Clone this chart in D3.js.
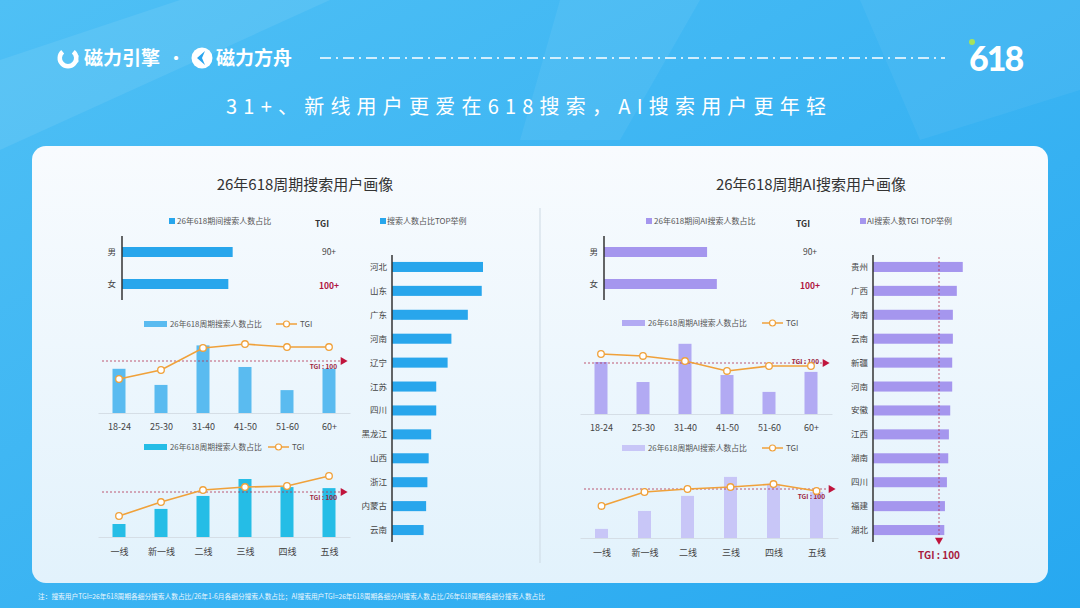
<!DOCTYPE html>
<html>
<head>
<meta charset="utf-8">
<script src="https://cdn.jsdelivr.net/npm/d3@7"></script>
<style>
  body { margin: 0; background: #2ba8ef; }
  svg { display: block; font-family: "Noto Sans CJK SC", "Noto Sans", sans-serif; }
</style>
</head>
<body>
<svg id="chart" width="1080" height="608"></svg>
<script>
// 数据
const genders = ["男", "女"];
const searchGenderShare = [51, 49];
const aiGenderShare = [47.5, 52];
const genderTgiLabels = ["90+", "100+"];

const ages = ["18-24", "25-30", "31-40", "41-50", "51-60", "60+"];
const searchAgeShare = [17, 10.8, 26, 17.7, 8.8, 17];
const searchAgeTgi = [88, 94, 108.7, 111.3, 109.3, 109.3];
const aiAgeShare = [20, 12.3, 27, 15, 8.5, 16.2];
const aiAgeTgi = [106, 104.7, 101.3, 94.7, 98, 98];

const tiers = ["一线", "新一线", "二线", "三线", "四线", "五线"];
const searchTierShare = [5, 10.8, 15.8, 22.3, 19.2, 18.8];
const searchTierTgi = [84, 93.3, 101.3, 103.3, 104, 110.7];
const aiTierShare = [3.5, 10.4, 16.2, 23.5, 20.8, 17.7];
const aiTierTgi = [88.7, 98, 100, 101.3, 103.3, 98.7];

const searchProvinces = ["河北", "山东", "广东", "河南", "辽宁", "江苏", "四川", "黑龙江", "山西", "浙江", "内蒙古", "云南"];
const searchProvinceShare = [7.2, 7.1, 6.0, 4.7, 4.4, 3.5, 3.5, 3.1, 2.9, 2.8, 2.7, 2.5];
const aiProvinces = ["贵州", "广西", "海南", "云南", "新疆", "河南", "安徽", "江西", "湖南", "四川", "福建", "湖北"];
const aiProvinceTgi = [136, 127, 121, 121, 120, 120, 117, 115, 114, 112, 109, 108];

const svg = d3.select("#chart");
const defs = svg.append("defs");

// 背景
const bg = defs.append("linearGradient").attr("id", "bg").attr("x1", 0).attr("y1", 0).attr("x2", 1).attr("y2", 1);
bg.append("stop").attr("offset", 0).attr("stop-color", "#4fc0f5");
bg.append("stop").attr("offset", 1).attr("stop-color", "#27a8f0");
svg.append("rect").attr("width", 1080).attr("height", 608).attr("fill", "url(#bg)");
svg.append("path").attr("d", "M0,60 L180,0 L330,0 L0,150 Z").attr("fill", "#fff").attr("opacity", 0.08);
svg.append("path").attr("d", "M560,0 L700,0 L620,140 L520,140 Z").attr("fill", "#fff").attr("opacity", 0.06);
svg.append("path").attr("d", "M860,0 L1080,0 L1080,90 L920,140 Z").attr("fill", "#fff").attr("opacity", 0.05);

// 页眉
const head = svg.append("g");
const ring = d3.arc().innerRadius(6).outerRadius(10.5).startAngle(0.7).endAngle(2 * Math.PI - 0.7);
head.append("path").attr("d", ring()).attr("transform", "translate(68,58)").attr("fill", "#fff");
head.append("circle").attr("cx", 77).attr("cy", 56).attr("r", 1.6).attr("fill", "#fff");
head.append("circle").attr("cx", 77).attr("cy", 61).attr("r", 1.6).attr("fill", "#fff");
head.append("text").attr("x", 84).attr("y", 65).attr("fill", "#fff")
  .attr("font-size", 19).attr("font-weight", 700).text("磁力引擎");
head.append("text").attr("x", 168).attr("y", 64).attr("fill", "#fff")
  .attr("font-size", 16).attr("font-weight", 700).text("·");
head.append("circle").attr("cx", 202).attr("cy", 58).attr("r", 10.5).attr("fill", "#fff");
head.append("path").attr("d", "M205,51 L197,58 L205,65 L202,58 Z").attr("fill", "#2aa5ee");
head.append("text").attr("x", 216).attr("y", 65).attr("fill", "#fff")
  .attr("font-size", 19).attr("font-weight", 700).text("磁力方舟");
head.append("line").attr("x1", 320).attr("x2", 945).attr("y1", 58).attr("y2", 58)
  .attr("stroke", "#fff").attr("stroke-width", 1.4).attr("stroke-dasharray", "11,5,2,5");
head.append("text").attr("x", 969).attr("y", 71).attr("fill", "#fff")
  .attr("font-family", "Lato, Roboto, sans-serif").attr("font-size", 34).attr("font-weight", 900)
  .attr("letter-spacing", -2).text("618");
head.append("circle").attr("cx", 972).attr("cy", 42).attr("r", 3).attr("fill", "#a6e35a");

svg.append("text").attr("x", 226).attr("y", 114).attr("fill", "#fff")
  .attr("font-size", 20).attr("textLength", 600).attr("lengthAdjust", "spacing")
  .text("31+、新线用户更爱在618搜索，AI搜索用户更年轻");

// 白色面板
const pg = defs.append("linearGradient").attr("id", "panel").attr("x1", 0).attr("y1", 0).attr("x2", 0).attr("y2", 1);
pg.append("stop").attr("offset", 0).attr("stop-color", "#f8fbfe");
pg.append("stop").attr("offset", 1).attr("stop-color", "#e2f2fc");
svg.append("rect").attr("x", 32).attr("y", 146).attr("width", 1016).attr("height", 437)
  .attr("rx", 14).attr("fill", "url(#panel)");
svg.append("line").attr("x1", 540).attr("x2", 540).attr("y1", 208).attr("y2", 563)
  .attr("stroke", "#cdd9e3").attr("stroke-width", 1);

svg.append("text").attr("x", 305).attr("y", 190).attr("text-anchor", "middle")
  .attr("font-size", 15).attr("fill", "#333").text("26年618周期搜索用户画像");
svg.append("text").attr("x", 811).attr("y", 190).attr("text-anchor", "middle")
  .attr("font-size", 15).attr("fill", "#333").text("26年618周期AI搜索用户画像");

svg.append("text").attr("x", 38).attr("y", 599).attr("fill", "#fff").attr("opacity", 0.9)
  .attr("font-size", 7).attr("textLength", 507).attr("lengthAdjust", "spacingAndGlyphs")
  .text("注：搜索用户TGI=26年618周期各细分搜索人数占比/26年1-6月各细分搜索人数占比；AI搜索用户TGI=26年618周期各细分AI搜索人数占比/26年618周期各细分搜索人数占比");

const TGI_COLOR = "#f0a13a";
const REF_COLOR = "#b3304f";

// 性别横条
function genderChart(o) {
  const g = svg.append("g");
  const y = d3.scalePoint().domain(genders).range([252, 284]);
  const x = d3.scaleLinear().domain([0, 100]).range([o.x0, o.x0 + 217]);
  g.append("rect").attr("x", o.legendX).attr("y", 218).attr("width", 6).attr("height", 6).attr("fill", o.color);
  g.append("text").attr("x", o.legendX + 8).attr("y", 224).attr("font-size", 8).attr("fill", "#555").text(o.legend);
  g.append("text").attr("x", o.tgiX).attr("y", 227).attr("text-anchor", "middle")
    .attr("font-size", 8.5).attr("font-weight", 700).attr("fill", "#333").text("TGI");
  g.selectAll("rect.bar").data(o.values).join("rect").attr("class", "bar")
    .attr("x", x(0)).attr("y", (d, i) => y(genders[i]) - 5)
    .attr("width", d => x(d) - x(0)).attr("height", 10).attr("fill", o.color);
  g.selectAll("text.lab").data(genders).join("text").attr("class", "lab")
    .attr("x", o.x0 - 6).attr("y", d => y(d) + 3).attr("text-anchor", "end")
    .attr("font-size", 8.5).attr("fill", "#444").text(d => d);
  g.selectAll("text.tgi").data(genderTgiLabels).join("text").attr("class", "tgi")
    .attr("x", o.tgiX + 7).attr("y", (d, i) => y(genders[i]) + 3 + i * 2).attr("text-anchor", "middle")
    .attr("font-size", 8.5).attr("font-weight", (d, i) => i ? 700 : 400)
    .attr("fill", (d, i) => i ? "#b0163e" : "#444").text(d => d);
  g.append("line").attr("x1", o.x0).attr("x2", o.x0).attr("y1", 236).attr("y2", 300)
    .attr("stroke", "#333").attr("stroke-width", 1.5);
}

// 柱线组合
function comboChart(o) {
  const g = svg.append("g");
  const x = d3.scalePoint().domain(o.cats).range(o.range).padding(0.5);
  const y = d3.scaleLinear().domain([0, 30]).range([o.base, o.base - 78]);
  const t = d3.scaleLinear().domain([70, 130]).range([o.ref + 45, o.ref - 45]);

  g.append("g").attr("transform", `translate(0,${o.base})`)
    .call(d3.axisBottom(x).tickSize(0).tickSizeOuter(0))
    .call(a => a.select(".domain").attr("stroke", "#d5dee6"))
    .call(a => a.selectAll("text").attr("dy", o.tickDy).attr("font-size", 9)
      .attr("font-family", "\"Noto Sans CJK SC\", sans-serif").attr("fill", "#444"));

  g.selectAll("rect.bar").data(o.share).join("rect").attr("class", "bar")
    .attr("x", (d, i) => x(o.cats[i]) - 6.5).attr("width", 13)
    .attr("y", d => y(d)).attr("height", d => y(0) - y(d)).attr("fill", o.color);

  g.append("line").attr("x1", o.range[0] + 4).attr("x2", o.range[1] - 10)
    .attr("y1", t(100)).attr("y2", t(100))
    .attr("stroke", REF_COLOR).attr("stroke-width", 0.8).attr("stroke-dasharray", "2,2");
  g.append("path").attr("d", d3.symbol(d3.symbolTriangle, 28)())
    .attr("transform", `translate(${o.range[1] - 7},${t(100)}) rotate(90)`).attr("fill", "#c0143c");
  g.append("text").attr("x", o.range[1] - 13).attr("y", t(100) + o.refDy).attr("text-anchor", "end")
    .attr("font-size", 6.5).attr("font-weight", 700).attr("fill", "#9c1f3c").text("TGI : 100");

  const line = d3.line().x((d, i) => x(o.cats[i])).y(d => t(d));
  g.append("path").attr("d", line(o.tgi)).attr("fill", "none")
    .attr("stroke", TGI_COLOR).attr("stroke-width", 1.6);
  g.selectAll("circle.pt").data(o.tgi).join("circle").attr("class", "pt")
    .attr("cx", (d, i) => x(o.cats[i])).attr("cy", d => t(d)).attr("r", 3.3)
    .attr("fill", "#fff").attr("stroke", TGI_COLOR).attr("stroke-width", 1.3);

  // 图例
  g.append("rect").attr("x", o.legX).attr("y", o.legY - 3).attr("width", 23).attr("height", 6).attr("fill", o.color);
  g.append("text").attr("x", o.legX + 26).attr("y", o.legY + 3).attr("font-size", 7.8).attr("fill", "#555").text(o.legend);
  g.append("line").attr("x1", o.lineX).attr("x2", o.lineX + 21).attr("y1", o.legY).attr("y2", o.legY)
    .attr("stroke", TGI_COLOR).attr("stroke-width", 1.5);
  g.append("circle").attr("cx", o.lineX + 10.5).attr("cy", o.legY).attr("r", 3)
    .attr("fill", "#fff").attr("stroke", TGI_COLOR).attr("stroke-width", 1.2);
  g.append("text").attr("x", o.lineX + 24).attr("y", o.legY + 3).attr("font-size", 8).attr("fill", "#555").text("TGI");
}

// 省份横条
function provinceChart(o) {
  const g = svg.append("g");
  const y = d3.scaleBand().domain(o.names).range([255, 542]).paddingInner(0.58).paddingOuter(0.29);
  const x = d3.scaleLinear().domain(o.domain).range([o.x0, o.x0 + o.width]);
  g.append("rect").attr("x", o.legX).attr("y", 218).attr("width", 6).attr("height", 6).attr("fill", o.color);
  g.append("text").attr("x", o.legX + 7).attr("y", 224).attr("font-size", 8).attr("fill", "#555").text(o.legend);
  g.selectAll("rect.bar").data(o.values).join("rect").attr("class", "bar")
    .attr("x", x(0)).attr("y", (d, i) => y(o.names[i]))
    .attr("width", d => x(d) - x(0)).attr("height", y.bandwidth()).attr("fill", o.color);
  g.selectAll("text.lab").data(o.names).join("text").attr("class", "lab")
    .attr("x", o.x0 - 5).attr("y", d => y(d) + y.bandwidth() / 2 + 3).attr("text-anchor", "end")
    .attr("font-size", 8.5).attr("fill", "#444").text(d => d);
  g.append("line").attr("x1", o.x0).attr("x2", o.x0).attr("y1", 255).attr("y2", 542)
    .attr("stroke", "#333").attr("stroke-width", 1.5);
  if (o.refLine) {
    g.append("line").attr("x1", x(100)).attr("x2", x(100)).attr("y1", 257).attr("y2", 537)
      .attr("stroke", REF_COLOR).attr("stroke-width", 0.8).attr("stroke-dasharray", "2,2");
    g.append("path").attr("d", d3.symbol(d3.symbolTriangle, 28)())
      .attr("transform", `translate(${x(100)},540) rotate(180)`).attr("fill", "#c0143c");
    g.append("text").attr("x", x(100)).attr("y", 559).attr("text-anchor", "middle")
      .attr("font-size", 10).attr("font-weight", 700).attr("fill", "#a81a3c").text("TGI : 100");
  }
}

genderChart({ x0: 122, values: searchGenderShare, color: "#28a6ec", legendX: 169, legend: "26年618期间搜索人数占比", tgiX: 322 });
genderChart({ x0: 604, values: aiGenderShare, color: "#a596ee", legendX: 646, legend: "26年618期间AI搜索人数占比", tgiX: 803 });

comboChart({ cats: ages, share: searchAgeShare, tgi: searchAgeTgi, range: [98, 350], base: 413, ref: 361,
  color: "#5abbf0", tickDy: "1.5em", refDy: 8, legX: 144, legY: 324, lineX: 276, legend: "26年618周期搜索人数占比" });
comboChart({ cats: tiers, share: searchTierShare, tgi: searchTierTgi, range: [98, 350], base: 537, ref: 492,
  color: "#25bde6", tickDy: "1.7em", refDy: 8, legX: 144, legY: 447, lineX: 268, legend: "26年618周期搜索人数占比" });
comboChart({ cats: ages, share: aiAgeShare, tgi: aiAgeTgi, range: [580, 832], base: 414, ref: 363,
  color: "#b2aaf3", tickDy: "1.5em", refDy: 1, legX: 622, legY: 323, lineX: 762, legend: "26年618周期AI搜索人数占比" });
comboChart({ cats: tiers, share: aiTierShare, tgi: aiTierTgi, range: [580, 838], base: 538, ref: 489,
  color: "#c8c6f7", tickDy: "1.7em", refDy: 10, legX: 622, legY: 448, lineX: 762, legend: "26年618周期AI搜索人数占比" });

provinceChart({ names: searchProvinces, values: searchProvinceShare, domain: [0, 7.2], x0: 392, width: 91,
  color: "#28a6ec", legX: 380, legend: "搜索人数占比TOP举例", refLine: false });
provinceChart({ names: aiProvinces, values: aiProvinceTgi, domain: [0, 100], x0: 873, width: 66,
  color: "#a596ee", legX: 860, legend: "AI搜索人数TGI TOP举例", refLine: true });
</script>
</body>
</html>
